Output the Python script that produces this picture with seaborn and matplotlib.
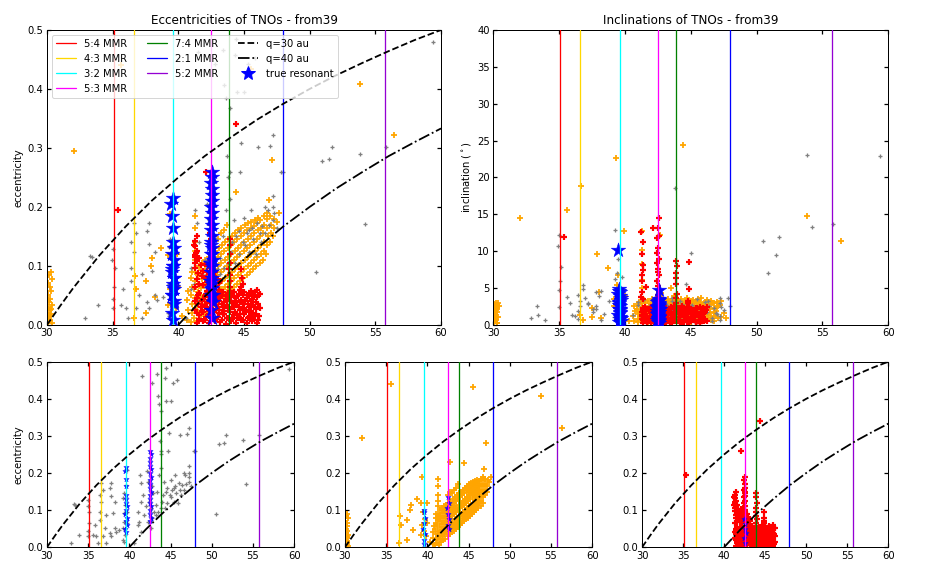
import numpy as np
import pandas as pd
import matplotlib
matplotlib.use("Agg")
import matplotlib.pyplot as plt
from matplotlib.lines import Line2D
import seaborn as sns

# --- resonances (semi-major axis in au) ---
res_labels = ["5:4", "4:3", "3:2", "5:3", "7:4", "2:1", "5:2"]
res_a = [35.07, 36.6, 39.6, 42.5, 43.85, 47.95, 55.7]
res_colors = ["red", "gold", "cyan", "magenta", "green", "blue", "darkviolet"]

# --- perihelion curves ---
q30_a = [30, 31, 32, 34, 36, 38, 40, 42, 44, 46, 48, 50, 52, 54, 56, 58, 60]
q30_e = [0.0, 0.032, 0.0625, 0.118, 0.167, 0.211, 0.25, 0.286, 0.318, 0.348,
         0.375, 0.4, 0.423, 0.444, 0.464, 0.483, 0.5]
q40_a = [40, 41, 42, 44, 46, 48, 50, 52, 54, 56, 58, 60]
q40_e = [0.0, 0.024, 0.048, 0.091, 0.130, 0.167, 0.2, 0.231, 0.259, 0.286, 0.310, 0.333]

# --- grey objects (a, e, inc) ---
grey_pts = [
    (32.9, .011, 0.9), (33.9, .033, 0.6), (33.3, .116, 2.5), (33.4, .115, 1.4), (35.0, .128, 12.2),
    (34.95, .11, 10.7), (35.15, .096, 7.8), (35.1, .065, 5.9), (35.0, .044, 4.7), (35.0, .029, 2.4),
    (35.6, .033, 3.8), (36.0, .029, 1.4), (35.8, .06, 2.9), (36.4, .074, 4.1), (36.6, .123, 3.3),
    (36.4, .141, 1.9), (36.8, .155, 5.4), (36.6, .173, 2.6), (36.4, .096, 0.8), (37.0, .051, 3.6),
    (37.6, .038, 2.2), (36.8, .029, 4.9), (36.2, .011, 1.2), (37.2, .011, 3.0), (37.8, .173, 4.4),
    (37.6, .159, 1.7), (37.2, .087, 2.8), (38.0, .092, 3.9), (38.2, .123, 0.7), (37.8, .137, 2.1),
    (38.2, .051, 4.6), (38.4, .042, 1.5), (38.8, .047, 3.2), (37.8, .029, 2.5), (39.2, .02, 1.0),
    (39.3, .069, 4.3), (39.26, .051, 6.2), (39.4, .092, 2.8), (39.5, .114, 8.9), (39.26, .132, 12.9),
    (39.4, .146, 7.0), (39.6, .168, 5.1), (39.7, .209, 3.4), (39.5, .033, 1.9), (39.3, .015, 0.6),
    (39.75, .096, 6.5), (39.7, .065, 2.4), (40.6, .011, 1.3), (41.0, .06, 2.7), (41.2, .069, 0.9),
    (41.4, .173, 3.4), (41.3, .195, 1.8), (41.4, .123, 2.2), (41.5, .462, 2.0), (41.0, .096, 3.1),
    (41.6, .141, 1.1), (41.8, .087, 2.6), (42.0, .11, 0.4), (41.4, .042, 1.6), (42.2, .205, 2.9),
    (42.3, .177, 1.4), (42.4, .123, 3.8), (42.6, .105, 0.7), (42.3, .069, 2.3), (42.6, .051, 1.0),
    (42.8, .443, 3.0), (42.7, .164, 4.4), (42.9, .146, 1.9), (43.2, .087, 2.7), (43.4, .466, 1.2),
    (43.5, .407, 2.0), (43.6, .385, 3.3), (43.7, .286, 0.8), (43.8, .25, 18.5), (43.9, .259, 2.4),
    (43.9, .214, 1.5), (43.6, .195, 3.6), (43.4, .15, 0.6), (43.2, .114, 2.1), (43.5, .096, 1.3),
    (43.8, .105, 3.0), (44.1, .141, 0.9), (44.0, .123, 2.5), (44.3, .457, 1.7), (44.4, .484, 0.4),
    (44.2, .177, 3.2), (44.4, .15, 1.1), (44.6, .159, 5.5), (44.7, .259, 2.8), (44.8, .308, 1.6),
    (44.9, .141, 0.5), (45.0, .182, 9.7), (45.2, .155, 2.2), (45.3, .443, 1.0), (45.0, .394, 2.6),
    (45.4, .123, 0.3), (45.5, .195, 3.5), (45.6, .164, 1.4), (45.8, .452, 2.0), (46.0, .173, 0.7),
    (46.1, .302, 3.1), (46.2, .155, 1.8), (46.4, .168, 2.6), (46.6, .2, 0.9), (46.8, .195, 2.3),
    (47.0, .304, 1.5), (47.2, .322, 3.7), (47.2, .218, 0.6), (47.2, .2, 2.9), (47.8, .259, 3.7),
    (47.2, .177, 1.2), (44.5, .394, 2.4), (43.9, .367, 1.0), (48.0, .26, 2.5), (44.6, .12, 1.9),
    (45.1, .135, 2.7), (45.7, .145, 0.8), (46.3, .14, 3.3), (46.9, .17, 1.6), (47.3, .19, 2.4),
    (45.9, .12, 1.1), (44.3, .105, 2.8), (43.0, .095, 1.7), (42.8, .08, 3.4), (45.4, .16, 2.1),
    (46.6, .155, 0.5), (47.5, .165, 2.0), (50.5, .089, 11.4), (50.9, .277, 7.0), (51.5, .281, 9.5),
    (51.7, .302, 11.9), (54.2, .171, 13.3), (55.8, .302, 13.7), (53.8, .29, 23.0), (59.4, .48, 22.9),
]

# --- orange objects (a, e, inc) ---
orange_pts = [
    # Neptune Trojans
    (30.05, .005, 0.4), (30.15, .012, 1.6), (30.25, .008, 2.7), (30.1, .020, 1.0), (30.3, .018, 2.2),
    (30.2, .026, 0.6), (30.05, .030, 1.9), (30.35, .033, 2.9), (30.15, .038, 0.9), (30.25, .044, 2.4),
    (30.1, .050, 1.4), (30.3, .057, 0.3), (30.2, .064, 2.0), (30.05, .071, 1.2), (30.4, .078, 2.6),
    (30.15, .085, 0.7), (30.3, .090, 1.8), (30.1, .003, 2.5), (30.35, .004, 1.1), (30.2, .015, 3.0),
    (30.05, .042, 2.8), (30.3, .027, 0.2),
    # scattered
    (32.05, .294, 14.5), (35.6, .44, 15.6), (36.6, .011, 1.4), (36.8, .06, 0.6), (37.5, .074, 2.3),
    (37.5, .02, 1.1), (38.0, .114, 4.5), (38.2, .047, 0.9), (38.7, .13, 7.7), (39.2, .119, 3.5),
    (39.35, .188, 22.6), (39.4, .06, 5.4), (39.2, .033, 2.6), (39.5, .096, 6.8), (40.0, .065, 3.9),
    (39.8, .029, 1.7), (40.3, .015, 0.5), (36.7, .083, 18.8), (37.9, .10, 9.6), (39.9, .12, 12.7),
    (39.6, .045, 4.8), (39.7, .075, 2.1), (45.5, .433, 3.1), (44.4, .226, 24.4), (42.7, .231, 12.2),
    (53.8, .408, 14.7), (56.4, .322, 11.4), (47.1, .28, 2.5), (41.3, .184, 5.0), (46.9, .211, 1.2),
    # classical band
    (40.65, .008, 1.2), (40.72, .025, 2.6), (40.68, .042, 0.5), (40.75, .058, 1.9),
    (40.95, .005, 2.2), (41.02, .02, 0.8), (41.05, .035, 3.1), (40.98, .05, 1.5), (41.03, .065, 2.8),
    (41.0, .08, 0.4), (41.06, .09, 1.7),
    (41.2, .012, 3.3), (41.27, .028, 1.0), (41.3, .045, 2.4), (41.22, .06, 0.6), (41.28, .075, 3.0),
    (41.25, .09, 1.3), (41.3, .11, 6.1), (41.26, .125, 8.3), (41.3, .14, 10.2), (41.28, .165, 12.7),
    (41.45, .006, 0.7), (41.52, .022, 2.9), (41.55, .038, 1.4), (41.48, .055, 3.4), (41.53, .07, 0.9),
    (41.5, .085, 2.2), (41.56, .1, 1.0),
    (41.7, .015, 1.8), (41.77, .03, 0.3), (41.8, .047, 2.5), (41.73, .062, 1.1), (41.78, .078, 3.2),
    (41.75, .093, 0.6), (41.8, .105, 2.0),
    (41.95, .02, 2.7), (42.02, .035, 1.3), (42.05, .05, 3.5), (41.98, .066, 0.4), (42.03, .08, 2.1),
    (42.0, .095, 1.6), (42.06, .11, 2.9),
    (42.2, .022, 0.9), (42.27, .04, 2.3), (42.3, .055, 1.0), (42.22, .07, 3.1), (42.28, .085, 0.2),
    (42.25, .1, 1.8), (42.3, .115, 2.6),
    (42.45, .03, 3.0), (42.52, .045, 1.2), (42.55, .06, 2.4), (42.48, .075, 0.8), (42.53, .09, 3.3),
    (42.5, .105, 1.5), (42.56, .12, 0.6), (42.5, .14, 2.2),
    (42.7, .035, 1.7), (42.77, .05, 0.4), (42.8, .065, 2.8), (42.73, .08, 1.3), (42.78, .095, 3.6),
    (42.75, .11, 0.9), (42.8, .125, 2.0), (42.72, .15, 4.3),
    (42.95, .04, 2.5), (43.02, .055, 0.7), (43.05, .07, 3.2), (42.98, .085, 1.6), (43.03, .1, 0.3),
    (43.0, .115, 2.7), (43.06, .13, 1.1), (43.0, .145, 3.4),
    (43.2, .045, 1.4), (43.27, .06, 3.5), (43.3, .075, 0.8), (43.22, .09, 2.3), (43.28, .105, 1.0),
    (43.25, .12, 2.9), (43.3, .135, 0.5), (43.24, .155, 2.0),
    (43.45, .05, 3.1), (43.52, .065, 1.2), (43.55, .08, 2.6), (43.48, .095, 0.4), (43.53, .11, 3.3),
    (43.5, .125, 1.7), (43.56, .14, 2.4), (43.5, .16, 5.0),
    (43.7, .055, 0.9), (43.77, .07, 2.8), (43.8, .085, 1.5), (43.73, .1, 3.6), (43.78, .115, 0.6),
    (43.75, .13, 2.1), (43.8, .145, 1.3), (43.72, .17, 3.9),
    (43.95, .06, 2.9), (44.02, .075, 3.4), (44.05, .09, 0.7), (43.98, .105, 2.2), (44.03, .12, 1.5),
    (44.0, .135, 3.0), (44.06, .15, 0.9),
    (44.2, .065, 3.2), (44.27, .08, 1.1), (44.3, .095, 2.5), (44.22, .11, 0.3), (44.28, .125, 3.5),
    (44.25, .14, 1.8), (44.3, .155, 2.7),
    (44.45, .07, 2.7), (44.52, .085, 0.6), (44.55, .1, 3.1), (44.48, .115, 1.4), (44.53, .13, 2.4),
    (44.5, .145, 0.8), (44.56, .16, 3.3),
    (44.7, .075, 3.6), (44.77, .09, 1.9), (44.8, .105, 0.5), (44.73, .12, 2.8), (44.78, .135, 1.2),
    (44.75, .15, 3.4), (44.8, .165, 2.0),
    (44.95, .08, 2.8), (45.02, .095, 1.0), (45.05, .11, 3.3), (44.98, .125, 0.4), (45.03, .14, 2.2),
    (45.0, .155, 1.6), (45.06, .17, 3.0),
    (45.2, .085, 3.4), (45.27, .1, 0.9), (45.3, .115, 2.6), (45.22, .13, 1.3), (45.28, .145, 3.1),
    (45.25, .16, 0.7), (45.3, .172, 2.3),
    (45.45, .09, 2.6), (45.52, .105, 3.5), (45.55, .12, 1.1), (45.48, .135, 2.9), (45.53, .15, 0.5),
    (45.5, .165, 2.0), (45.56, .175, 3.2),
    (45.7, .095, 3.0), (45.77, .11, 1.4), (45.8, .125, 3.6), (45.73, .14, 0.8), (45.78, .155, 2.5),
    (45.75, .168, 1.7), (45.8, .178, 2.8),
    (45.95, .1, 2.4), (46.02, .115, 0.8), (46.05, .13, 3.1), (45.98, .145, 1.9), (46.03, .16, 2.9),
    (46.0, .172, 0.6), (46.06, .182, 2.2),
    (46.2, .105, 1.5), (46.27, .12, 3.0), (46.3, .135, 0.9), (46.22, .15, 2.6), (46.28, .165, 1.3),
    (46.25, .178, 3.4),
    (46.45, .11, 2.1), (46.52, .125, 0.7), (46.55, .14, 2.8), (46.48, .155, 1.6), (46.53, .17, 3.2),
    (46.5, .185, 1.0),
    (46.7, .12, 2.9), (46.77, .135, 1.2), (46.8, .15, 2.3), (46.73, .165, 0.5), (46.78, .18, 3.0),
    (46.75, .19, 1.8),
    (46.95, .14, 1.9), (47.02, .155, 3.1), (47.05, .17, 0.9), (46.98, .185, 2.4),
    (47.2, .15, 2.7), (47.27, .165, 1.1), (47.3, .18, 3.2), (47.5, .175, 1.6), (47.7, .19, 0.9),
]

# --- red objects (a, e, inc) ---
red_pts = [
    (41.4, .004, 0.3), (41.9, .006, 1.2), (42.3, .003, 2.1), (42.8, .007, 0.6), (43.2, .005, 1.8),
    (43.6, .002, 0.9), (44.0, .006, 2.3), (44.4, .004, 0.4), (44.8, .008, 1.5), (45.2, .003, 2.0),
    (45.6, .006, 0.7), (46.0, .004, 1.6),
    (41.6, .010, 1.1), (42.0, .009, 2.4), (42.5, .011, 0.2), (42.9, .010, 1.5), (43.3, .009, 0.8),
    (43.7, .011, 2.2), (44.1, .010, 0.5), (44.5, .012, 1.7), (44.9, .009, 2.4), (45.3, .011, 1.0),
    (45.7, .010, 0.3), (46.1, .009, 1.9),
    (41.6, .016, 1.9), (42.1, .013, 0.5), (42.5, .017, 1.4), (43.0, .014, 2.4), (43.4, .018, 0.2),
    (43.8, .012, 1.1), (44.2, .016, 1.9), (44.6, .014, 0.8), (45.0, .019, 2.2), (45.4, .013, 0.4),
    (45.8, .017, 1.3), (46.15, .015, 2.0),
    (41.4, .020, 2.3), (41.9, .021, 0.6), (42.3, .019, 1.6), (42.7, .021, 0.1), (43.1, .020, 2.0),
    (43.5, .019, 1.3), (43.9, .021, 0.7), (44.3, .020, 2.5), (44.7, .019, 0.4), (45.1, .021, 1.6),
    (45.5, .020, 2.2), (45.9, .019, 0.9),
    (41.3, .026, 0.8), (41.8, .024, 2.2), (42.2, .027, 0.3), (42.7, .023, 1.7), (43.1, .026, 0.9),
    (43.5, .024, 2.1), (43.9, .027, 0.5), (44.3, .022, 1.4), (44.7, .026, 2.4), (45.1, .025, 0.6),
    (45.5, .023, 1.8), (45.9, .027, 1.0),
    (41.7, .030, 0.4), (42.1, .031, 1.9), (42.5, .029, 1.1), (43.0, .031, 2.5), (43.4, .030, 0.6),
    (43.8, .029, 1.8), (44.2, .031, 0.2), (44.6, .030, 1.5), (45.0, .029, 0.8), (45.4, .031, 2.3),
    (45.8, .030, 1.2), (46.2, .029, 0.5),
    (41.5, .036, 1.5), (42.0, .034, 0.7), (42.4, .037, 2.3), (42.9, .033, 0.4), (43.3, .036, 1.6),
    (43.7, .034, 0.8), (44.1, .037, 2.0), (44.5, .033, 1.2), (44.9, .036, 0.3), (45.3, .035, 1.9),
    (45.7, .034, 2.4), (46.1, .036, 0.6),
    (41.3, .040, 1.2), (41.8, .041, 2.1), (42.2, .039, 0.9), (42.6, .041, 1.8), (43.1, .040, 0.4),
    (43.5, .039, 2.4), (43.9, .041, 1.0), (44.3, .040, 0.1), (44.7, .039, 1.9), (45.1, .041, 0.7),
    (45.5, .040, 1.6), (45.9, .039, 2.3),
    (41.4, .046, 2.0), (41.9, .044, 1.0), (42.3, .047, 0.5), (42.8, .043, 2.2), (43.2, .046, 1.3),
    (43.6, .044, 0.2), (44.0, .047, 1.7), (44.4, .045, 2.3), (44.8, .043, 0.9), (45.2, .046, 1.4),
    (45.6, .044, 0.5), (46.0, .047, 2.1),
    (41.5, .050, 2.4), (42.0, .049, 0.3), (42.4, .051, 1.5), (42.9, .050, 0.8), (43.3, .049, 1.9),
    (43.7, .051, 2.5), (44.1, .050, 1.1), (44.5, .049, 0.6), (44.9, .051, 2.0), (45.3, .050, 1.3),
    (45.7, .049, 0.2), (46.1, .051, 1.8),
    (41.6, .054, 0.6), (42.1, .052, 1.8), (42.6, .055, 1.0), (43.0, .053, 0.3), (43.4, .056, 2.2),
    (43.8, .052, 1.5), (44.2, .055, 0.7), (44.6, .053, 2.0), (45.0, .056, 1.1), (45.4, .052, 0.4),
    (45.8, .055, 1.7), (46.2, .053, 2.4),
    (42.2, .058, 1.4), (43.1, .059, 0.7), (43.9, .058, 2.1), (44.7, .059, 1.0), (45.5, .058, 2.3),
    (46.0, .059, 0.5),
    # inner part with higher e
    (41.3, .065, 1.4), (41.6, .070, 2.0), (41.9, .068, 0.8), (42.2, .072, 1.7), (42.8, .066, 1.1),
    (43.1, .071, 2.3), (41.4, .078, 0.6), (41.8, .082, 1.9), (42.1, .080, 2.4), (42.9, .079, 0.9),
    (43.2, .075, 1.5), (41.5, .088, 2.2), (41.9, .092, 1.0), (42.2, .090, 0.4), (42.8, .089, 2.0),
    (41.3, .097, 1.8), (41.7, .101, 0.5), (42.0, .104, 2.3), (42.3, .099, 1.2), (41.4, .108, 3.5),
    (41.6, .113, 5.2), (41.3, .118, 6.8), (41.4, .125, 8.1), (41.3, .133, 4.4), (41.3, .142, 9.6),
    (41.4, .150, 11.2), (41.2, .136, 12.6), (41.35, .122, 7.4), (41.25, .115, 3.8), (41.3, .105, 5.9),
    # column near 5:3
    (42.5, .11, 3.2), (42.6, .125, 4.5), (42.4, .135, 6.0), (42.5, .145, 7.6), (42.55, .16, 9.0),
    (42.5, .17, 10.4), (42.45, .18, 11.8), (42.5, .19, 13.2), (42.55, .15, 14.5), (42.5, .10, 5.3),
    (42.45, .118, 8.4), (42.6, .138, 12.0), (42.4, .155, 3.6), (42.5, .085, 4.1), (42.55, .095, 6.7),
    (42.45, .075, 9.8), (42.5, .065, 7.2),
    # column near 7:4
    (43.9, .065, 3.0), (43.95, .075, 4.2), (43.9, .085, 5.5), (43.85, .095, 6.3), (43.9, .105, 7.1),
    (43.95, .12, 8.0), (43.9, .135, 8.7), (43.9, .145, 3.7), (44.8, .065, 3.3), (44.85, .08, 4.8),
    (44.8, .095, 2.9), (44.9, .07, 8.5),
    # outliers
    (35.4, .195, 11.9), (42.1, .26, 13.2), (44.4, .34, 2.0),
]

# --- true resonant objects (a, e, inc, class) ---
star_pts = [
    (39.6, .008, 0.8, "orange"), (39.55, .02, 2.1, "orange"), (39.68, .035, 3.6, "orange"),
    (39.5, .05, 1.4, "orange"), (39.62, .065, 4.4, "orange"), (39.7, .08, 0.5, "orange"),
    (39.55, .095, 2.7, "orange"), (39.6, .10, 3.9, "orange"),
    (39.65, .04, 1.8, "grey"), (39.52, .05, 4.9, "grey"), (39.7, .06, 0.9, "grey"),
    (39.58, .07, 3.1, "grey"), (39.66, .08, 2.2, "grey"), (39.5, .09, 4.2, "grey"),
    (39.62, .10, 1.1, "grey"), (39.7, .11, 3.4, "grey"), (39.55, .12, 0.4, "grey"),
    (39.64, .13, 2.6, "grey"), (39.58, .14, 4.6, "grey"), (39.62, .165, 1.6, "grey"),
    (39.55, .185, 3.0, "grey"), (39.45, .205, 10.1, "grey"), (39.6, .215, 2.0, "grey"),
    (42.55, .012, 0.6, "red"), (42.45, .025, 1.9, "red"), (42.62, .038, 1.0, "red"),
    (42.5, .05, 2.6, "red"), (42.58, .062, 0.3, "red"), (42.4, .075, 1.5, "red"),
    (42.65, .05, 2.2, "orange"), (42.48, .06, 0.9, "orange"), (42.6, .075, 3.0, "orange"),
    (42.52, .09, 1.6, "orange"), (42.44, .105, 2.4, "orange"), (42.58, .12, 0.5, "orange"),
    (42.5, .135, 3.3, "orange"),
    (42.55, .07, 1.2, "grey"), (42.6, .08, 2.8, "grey"), (42.45, .09, 0.7, "grey"),
    (42.55, .10, 2.0, "grey"), (42.62, .11, 3.4, "grey"), (42.48, .12, 1.3, "grey"),
    (42.56, .13, 2.5, "grey"), (42.5, .14, 0.4, "grey"), (42.6, .15, 1.8, "grey"),
    (42.45, .16, 3.1, "grey"), (42.55, .17, 2.2, "grey"), (42.5, .18, 0.9, "grey"),
    (42.6, .19, 2.7, "grey"), (42.52, .20, 1.5, "grey"), (42.58, .21, 3.5, "grey"),
    (42.55, .22, 4.7, "grey"), (42.55, .23, 1.0, "grey"), (42.5, .24, 2.3, "grey"),
    (42.6, .25, 1.7, "grey"), (42.53, .26, 0.8, "grey"),
]

cols = ["a", "e", "inc"]
grey_df = pd.DataFrame(grey_pts, columns=cols)
orange_df = pd.DataFrame(orange_pts, columns=cols)
red_df = pd.DataFrame(red_pts, columns=cols)
star_df = pd.DataFrame(star_pts, columns=cols + ["cls"])

sns.set_theme(style="ticks")
plt.rcParams.update({
    "font.family": ["DejaVu Sans"],
    "font.size": 10,
    "axes.titlesize": 12,
    "axes.labelsize": 10,
    "xtick.labelsize": 10,
    "ytick.labelsize": 10,
    "legend.fontsize": 10,
    "axes.edgecolor": "black",
    "axes.linewidth": 1.0,
    "xtick.direction": "in",
    "ytick.direction": "in",
    "xtick.top": True,
    "ytick.right": True,
    "xtick.major.size": 4,
    "ytick.major.size": 4,
    "xtick.color": "black",
    "ytick.color": "black",
    "text.color": "black",
    "axes.labelcolor": "black",
})

fig = plt.figure(figsize=(13, 8), dpi=72)
ax_e = fig.add_axes([0.0502, 0.436, 0.421, 0.512])
ax_i = fig.add_axes([0.527, 0.436, 0.422, 0.512])
ax_g = fig.add_axes([0.0502, 0.050, 0.264, 0.322])
ax_o = fig.add_axes([0.3686, 0.050, 0.264, 0.322])
ax_r = fig.add_axes([0.686, 0.050, 0.263, 0.322])

# marker size / thickness per class (dense classes need heavier marks)
MARK = {"grey": (22, 1.3), "orange": (28, 1.8), "red": (32, 2.2)}


def points(ax, df, y, color):
    s, lw = MARK[color]
    sns.scatterplot(data=df, x="a", y=y, color=color, marker="+", s=s,
                    linewidth=lw, ax=ax, legend=False)


def stars(ax, df, y, size):
    sns.scatterplot(data=df, x="a", y=y, color="blue", marker="*", s=size,
                    edgecolor="blue", linewidth=0.5, ax=ax, legend=False, zorder=3)


def res_lines(ax):
    for a, c in zip(res_a, res_colors):
        ax.axvline(a, color=c, lw=1.3, zorder=4)


def q_curves(ax):
    ax.plot(q30_a, q30_e, color="black", ls="--", lw=1.8, zorder=4)
    ax.plot(q40_a, q40_e, color="black", ls="-.", lw=1.8, zorder=4)


def finish(ax, ymax, ystep, ylabel=""):
    ax.set_xlim(30, 60)
    ax.set_ylim(0, ymax)
    ax.set_xticks(np.arange(30, 61, 5))
    ax.set_yticks(np.arange(0, ymax + ystep / 2, ystep))
    ax.set_xlabel("")
    ax.set_ylabel(ylabel)


# eccentricity, all objects
points(ax_e, orange_df, "e", "orange")
points(ax_e, grey_df, "e", "grey")
points(ax_e, red_df, "e", "red")
stars(ax_e, star_df, "e", 230)
res_lines(ax_e)
q_curves(ax_e)
finish(ax_e, 0.5, 0.1, "eccentricity")
ax_e.set_yticklabels([f"{v:.1f}" for v in np.arange(0, 0.51, 0.1)])
ax_e.set_title("Eccentricities of TNOs - from39")

handles = [Line2D([], [], color=c, lw=1.3, label=f"{n} MMR") for n, c in zip(res_labels, res_colors)]
handles += [Line2D([], [], color="black", ls="--", lw=1.8, label="q=30 au"),
            Line2D([], [], color="black", ls="-.", lw=1.8, label="q=40 au"),
            Line2D([], [], color="blue", marker="*", ls="none", ms=14, label="true resonant")]
ax_e.legend(handles=handles, loc="upper left", ncol=3)

# inclination, all objects
points(ax_i, orange_df, "inc", "orange")
points(ax_i, grey_df, "inc", "grey")
points(ax_i, red_df, "inc", "red")
stars(ax_i, star_df, "inc", 230)
res_lines(ax_i)
finish(ax_i, 40, 5, r"inclination ($^\circ$)")
ax_i.set_title("Inclinations of TNOs - from39")

# one panel per class
for ax, df, cls in [(ax_g, grey_df, "grey"), (ax_o, orange_df, "orange"), (ax_r, red_df, "red")]:
    points(ax, df, "e", cls)
    stars(ax, star_df[star_df["cls"] == cls], "e", 30)
    res_lines(ax)
    q_curves(ax)
    finish(ax, 0.5, 0.1)
    ax.set_yticklabels([f"{v:.1f}" for v in np.arange(0, 0.51, 0.1)])
ax_g.set_ylabel("eccentricity")

fig.savefig("out.png", dpi=72)
